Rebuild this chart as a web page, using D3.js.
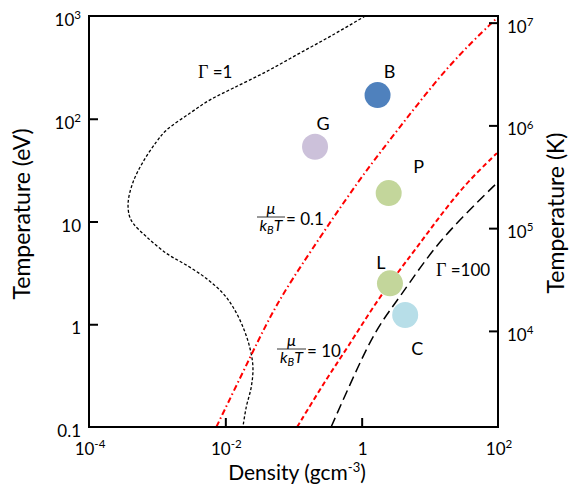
<!DOCTYPE html>
<html>
<head>
<meta charset="utf-8">
<script src="https://cdn.jsdelivr.net/npm/d3@7"></script>
<style>
  html, body { margin: 0; padding: 0; background: #fff; }
  svg { display: block; }
  text { font-family: Lato, "Open Sans", sans-serif; fill: #000; }
</style>
</head>
<body>
<svg id="chart" width="571" height="484"></svg>
<script>
// ---------------- data ----------------
// Axis ticks
const densityTicks = [1e-4, 1e-2, 1, 1e2];
const densityTickBase = ["10", "10", "1", "10"];
const densityTickExp = ["-4", "-2", "", "2"];

const tempEVTicks = [1000, 100, 10, 1, 0.1];
const tempEVTickBase = ["10", "10", "10", "1", "0.1"];
const tempEVTickExp = ["3", "2", "", "", ""];

const tempKTicks = [1e4, 1e5, 1e6, 1e7];
const tempKTickBase = ["10", "10", "10", "10"];
const tempKTickExp = ["4", "5", "6", "7"];

const eVtoK = 11604.5;

// Material points (density g/cm^3, temperature eV)
const pointLabels = ["B", "G", "P", "L", "C"];
const pointDensity = [1.71, 0.207, 2.49, 2.6, 4.35];
const pointTemp = [170, 53.4, 18.9, 2.5, 1.23];
const pointColors = ["#4f81bd", "#ccc1da", "#c3d69b", "#c3d69b", "#b7dee8"];

// Gamma = 1 curve
const gamma1Density = [1.13, 0.375, 0.122, 0.0398, 0.0129, 0.00589, 0.00301, 0.00137, 0.000977, 0.000622,
  0.000445, 0.000376, 0.000389, 0.000445, 0.000698, 0.00137, 0.00269, 0.00527, 0.00923, 0.0129,
  0.0181, 0.0227, 0.0254, 0.0240, 0.0203, 0.0181];
const gamma1Temp = [1000, 653, 433, 287, 198, 152, 113, 77.6, 59.7, 38.1,
  24.4, 15.6, 11.5, 9.58, 7.10, 4.89, 3.76, 2.79, 2.00, 1.48,
  0.944, 0.603, 0.385, 0.245, 0.157, 0.1];

// Gamma = 100 curve
const gamma100Density = [0.356, 0.923, 1.62, 2.83, 4.97, 10.9, 29.9, 96.4];
const gamma100Temp = [0.1, 0.415, 0.877, 1.48, 2.49, 5.27, 11.1, 23.7];

// mu / kBT = 0.1 curve
const mu01Density = [0.00738, 0.0251, 0.0564, 0.171, 0.923, 3.55, 19.1, 96.4];
const mu01Temp = [0.1, 0.535, 1.60, 4.92, 25.9, 81.2, 341, 957];

// mu / kBT = 10 curve
const mu10Density = [0.113, 0.317, 0.589, 1.81, 5.56, 12.2, 31.7, 96.4];
const mu10Temp = [0.1, 0.308, 0.560, 1.85, 4.89, 9.93, 22.6, 46.3];

// ---------------- chart ----------------
const svg = d3.select("#chart");
const L = 89, R = 498, T = 16, B = 427;

const x = d3.scaleLog().domain([1e-4, 1e2]).range([L, R]);
const y = d3.scaleLog().domain([0.1, 1000]).range([B, T]);
const yK = d3.scaleLog().domain([0.1 * eVtoK, 1000 * eVtoK]).range([B, T]);

svg.append("defs").append("clipPath").attr("id", "plotclip")
  .append("rect").attr("x", L).attr("y", T).attr("width", R - L).attr("height", B - T);

const plot = svg.append("g").attr("clip-path", "url(#plotclip)");

function drawCurve(dens, temp, color, width, dash, curve) {
  const line = d3.line().x(d => x(d[0])).y(d => y(d[1])).curve(curve);
  plot.append("path")
    .datum(dens.map((d, i) => [d, temp[i]]))
    .attr("d", line)
    .attr("fill", "none")
    .attr("stroke", color)
    .attr("stroke-width", width)
    .attr("stroke-dasharray", dash);
}
drawCurve(gamma1Density, gamma1Temp, "#000", 1.3, "3,2", d3.curveCatmullRom.alpha(0.5));
drawCurve(gamma100Density, gamma100Temp, "#000", 1.5, "10,5", d3.curveBasis);
drawCurve(mu01Density, mu01Temp, "#ff0000", 2, "6,3,1.5,3", d3.curveBasis);
drawCurve(mu10Density, mu10Temp, "#ff0000", 2, "5,3", d3.curveBasis);

// points
plot.selectAll("circle.pt")
  .data(pointLabels.map((l, i) => ({ l, d: pointDensity[i], t: pointTemp[i], c: pointColors[i] })))
  .join("circle")
  .attr("class", "pt")
  .attr("cx", d => x(d.d))
  .attr("cy", d => y(d.t))
  .attr("r", 13)
  .attr("fill", d => d.c);

// point labels (offsets relative to circle)
const labelOffsets = { B: [12, -17], G: [8, -17], P: [30, -20], L: [-9, -14], C: [12, 40] };
svg.selectAll("text.ptlab")
  .data(pointLabels.map((l, i) => ({ l, d: pointDensity[i], t: pointTemp[i] })))
  .join("text")
  .attr("class", "ptlab")
  .attr("x", d => x(d.d) + labelOffsets[d.l][0])
  .attr("y", d => y(d.t) + labelOffsets[d.l][1])
  .attr("text-anchor", "middle")
  .attr("font-size", 18)
  .text(d => d.l);

// frame
svg.append("rect").attr("x", L).attr("y", T).attr("width", R - L).attr("height", B - T)
  .attr("fill", "none").attr("stroke", "#000").attr("stroke-width", 2);

// axes tick marks (inward)
const tickStyle = g => {
  g.select(".domain").remove();
  g.selectAll(".tick line").attr("stroke", "#000").attr("stroke-width", 2);
  g.selectAll(".tick text").remove();
};
svg.append("g").attr("transform", `translate(${L},0)`)
  .call(d3.axisLeft(y).tickValues([100, 10, 1]).tickSize(-9)).call(tickStyle);
svg.append("g").attr("transform", `translate(0,${B})`)
  .call(d3.axisBottom(x).tickValues([1e-2, 1]).tickSize(-9)).call(tickStyle);
svg.append("g").attr("transform", `translate(${R},0)`)
  .call(d3.axisRight(yK).tickValues(tempKTicks).tickSize(-9)).call(tickStyle);

// tick labels with superscripts
function supLabel(sel, base, exp, size) {
  sel.append("tspan").text(base);
  if (exp) sel.append("tspan").attr("font-size", size * 0.68).attr("dy", -size * 0.4).text(exp);
}
const fs = 17;
tempEVTicks.forEach((v, i) => {
  const t = svg.append("text").attr("x", 81).attr("y", y(v) + 10)
    .attr("text-anchor", "end").attr("font-size", fs);
  supLabel(t, tempEVTickBase[i], tempEVTickExp[i], fs);
});
densityTicks.forEach((v, i) => {
  const t = svg.append("text").attr("x", x(v) + 1).attr("y", 455)
    .attr("text-anchor", "middle").attr("font-size", fs);
  supLabel(t, densityTickBase[i], densityTickExp[i], fs);
});
tempKTicks.forEach((v, i) => {
  const t = svg.append("text").attr("x", 507).attr("y", yK(v) + 10)
    .attr("text-anchor", "start").attr("font-size", fs);
  supLabel(t, tempKTickBase[i], tempKTickExp[i], fs);
});

// axis titles
svg.append("text").attr("transform", "translate(30,214) rotate(-90)")
  .attr("text-anchor", "middle").attr("font-size", 23).text("Temperature (eV)");
svg.append("text").attr("transform", "translate(564,213) rotate(-90)")
  .attr("text-anchor", "middle").attr("font-size", 23).text("Temperature (K)");
const xt = svg.append("text").attr("x", 297).attr("y", 480).attr("text-anchor", "middle").attr("font-size", 21);
xt.append("tspan").text("Density (gcm");
xt.append("tspan").attr("font-size", 13).attr("dy", -8).text("-3");
xt.append("tspan").attr("dy", 8).text(")");

// curve annotations
function gammaLabel(px, py, val) {
  const t = svg.append("text").attr("x", px).attr("y", py).attr("font-size", 17);
  t.append("tspan").attr("font-family", "'Liberation Serif', 'DejaVu Serif', serif").attr("font-size", 18).text("Γ");
  t.append("tspan").text(" =" + val);
}
gammaLabel(198, 78, "1");
gammaLabel(436, 276, "100");

function muLabel(barX0, barX1, barY, val) {
  const cx = (barX0 + barX1) / 2;
  const serif = "'Liberation Serif', 'DejaVu Serif', serif";
  svg.append("line").attr("x1", barX0).attr("x2", barX1).attr("y1", barY).attr("y2", barY)
    .attr("stroke", "#000").attr("stroke-width", 0.8);
  svg.append("text").attr("x", cx).attr("y", barY - 3).attr("text-anchor", "middle")
    .attr("font-family", serif).attr("font-style", "italic").attr("font-size", 16).text("μ");
  const k = svg.append("text").attr("x", cx).attr("y", barY + 14).attr("text-anchor", "middle")
    .attr("font-family", serif).attr("font-style", "italic").attr("font-size", 16);
  k.append("tspan").text("k");
  k.append("tspan").attr("font-size", 11).attr("dy", 3).text("B");
  k.append("tspan").attr("dy", -3).text("T");
  svg.append("text").attr("x", barX1 + 1).attr("y", barY + 8).attr("font-size", 17).text("= " + val);
}
muLabel(257, 285, 217, "0.1");
muLabel(277, 306, 349, "10");
</script>
</body>
</html>
